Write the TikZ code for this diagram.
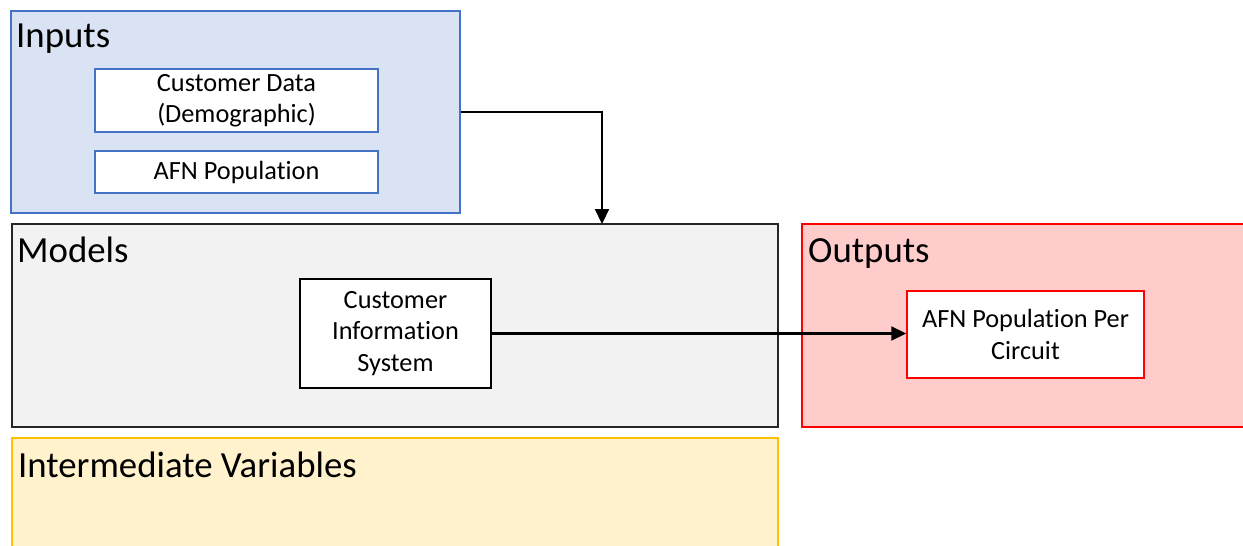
\documentclass[tikz,border=0pt]{standalone}
\usepackage{fontspec}
\setmainfont{Carlito}[Ligatures=NoCommon]
\usetikzlibrary{arrows.meta}

\definecolor{inbg}{HTML}{DAE3F3}
\definecolor{inline}{HTML}{4472C4}
\definecolor{modbg}{HTML}{F2F2F2}
\definecolor{modline}{HTML}{262626}
\definecolor{outbg}{HTML}{FFCCCC}
\definecolor{outline}{HTML}{FF0000}
\definecolor{midbg}{HTML}{FFF2CC}
\definecolor{midline}{HTML}{FFC000}

\tikzset{
  group/.style={draw,line width=1.5pt,inner sep=0pt},
  box/.style={draw,fill=white,line width=1.5pt,align=center,inner sep=0pt,
    font=\fontsize{26.3}{31.5}\selectfont},
  title/.style={anchor=base west,inner sep=0pt,font=\fontsize{36.8}{44}\selectfont},
  flow/.style={line width=2.2pt,-{Triangle[length=15pt,width=14pt]}}
}

\begin{document}
\begin{tikzpicture}[x=1pt,y=-1pt]
  \useasboundingbox (0,0) rectangle (1243,546);
  % Group boxes
  \node[group,fill=inbg,draw=inline,minimum width=449pt,minimum height=202pt] (inputs) at (235.5,112) {};
  \node[group,fill=modbg,draw=modline,minimum width=766pt,minimum height=203pt] (models) at (395,325.5) {};
  \node[group,fill=outbg,draw=outline,minimum width=460pt,minimum height=203pt] (outputs) at (1032,325.5) {};
  \node[group,fill=midbg,draw=midline,minimum width=766pt,minimum height=140pt] (inter) at (395,508) {};
  % Titles
  \node[title] (intitle) at (16,47) {Inputs};
  \node[title] (modtitle) at (17,262) {Models};
  \node[title] (outtitle) at (808,262) {Outputs};
  \node[title] (midtitle) at (18,477) {Intermediate Variables};
  % Inner boxes
  \node[box,draw=inline,minimum width=283pt,minimum height=63pt] (custdata) at (236.5,100.5) {Customer Data\\(Demographic)};
  \node[box,draw=inline,minimum width=283pt,minimum height=42pt] (afnpop) at (236.5,172) {AFN Population};
  \node[box,draw=black,minimum width=191pt,minimum height=109pt] (cis) at (395.5,333.5) {Customer\\Information\\System};
  \node[box,draw=outline,minimum width=237pt,minimum height=87pt] (perckt) at (1025.5,334.5) {AFN Population Per\\Circuit};
  % Connectors
  \coordinate (drop) at (602,224);
  \draw[flow] (inputs.east) -| (drop);
  \draw[flow] (cis.east) -- (cis.east -| perckt.west);
\end{tikzpicture}
\end{document}
